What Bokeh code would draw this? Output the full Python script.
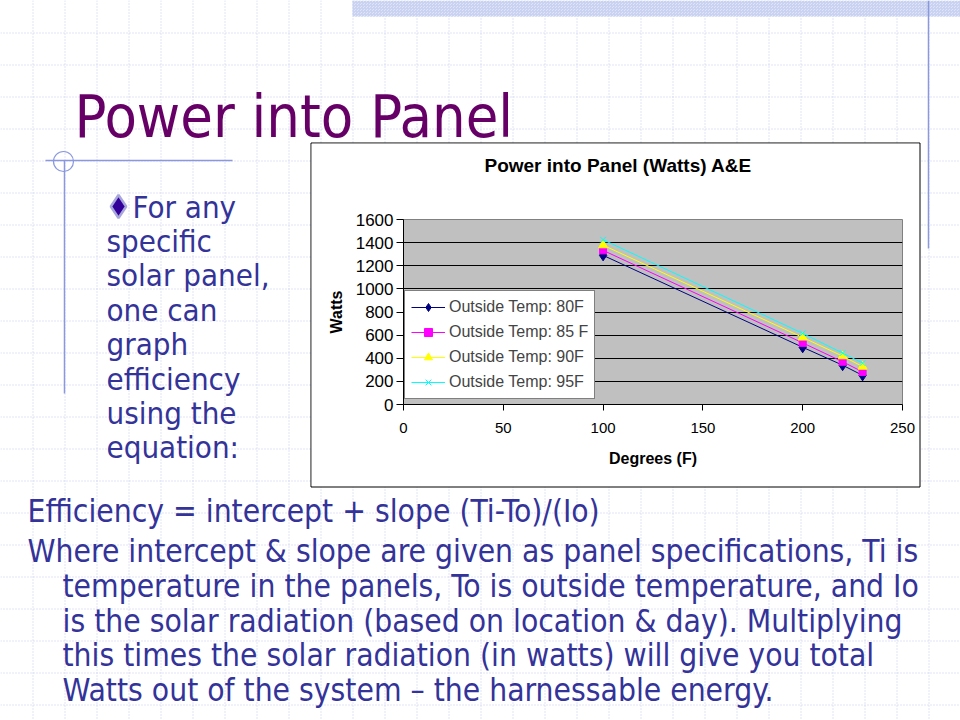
from bokeh.plotting import figure
from bokeh.models import Range1d, FixedTicker, Legend, Title
from bokeh.core.properties import value
from bokeh.embed import file_html
from bokeh.resources import INLINE

# ---------------- chart data ----------------
degrees = [100, 200, 220, 230]
watts_80 = [1290, 495, 340, 252]
watts_85 = [1333, 533, 370, 282]
watts_90 = [1378, 580, 418, 328]
watts_95 = [1425, 615, 445, 358]
series_labels = ["Outside Temp: 80F", "Outside Temp: 85 F", "Outside Temp: 90F", "Outside Temp: 95F"]
x_ticks = [0, 50, 100, 150, 200, 250]
y_ticks = [0, 200, 400, 600, 800, 1000, 1200, 1400, 1600]
chart_title = "Power into Panel (Watts) A&E"
x_label = "Degrees (F)"
y_label = "Watts"

# ---------------- slide text ----------------
slide_title = "Power into Panel"
bullet_lines = ["For any", "specific", "solar panel,", "one can", "graph",
                "efficiency", "using the", "equation:"]
body_lines = ["Efficiency = intercept + slope (Ti-To)/(Io)",
              "Where intercept & slope are given as panel specifications, Ti is",
              "temperature in the panels, To is outside temperature, and Io",
              "is the solar radiation (based on location & day).  Multiplying",
              "this times the solar radiation (in watts) will give you total",
              "Watts out of the system \u2013 the harnessable energy."]

SLIDE_FONT = "DejaVu Sans Condensed"
TEXT_COL = "#333399"
DECO_COL = "#8a98de"
GRID_COL = "#c2c6ea"
W, H = 960, 720
# chart box (page pixels)
BL, BT, BR, BB = 310, 142, 919, 486

# ================= slide canvas =================
s = figure(width=W, height=H, x_range=Range1d(0, W), y_range=Range1d(H, 0),
           output_backend="svg", toolbar_location=None, min_border=0,
           x_axis_location=None, y_axis_location=None)
s.outline_line_color = None
s.grid.visible = False
s.background_fill_color = "white"
s.border_fill_color = "white"

gx = [32 * k + 0.5 for k in range(1, 31)]
gy = [32 * k + 0.5 for k in range(1, 23)]
s.segment(x0=gx, y0=[0] * len(gx), x1=gx, y1=[H] * len(gx),
          line_color=GRID_COL, line_width=1, line_dash="1 2")
s.segment(x0=[0] * len(gy), y0=gy, x1=[W] * len(gy), y1=gy,
          line_color=GRID_COL, line_width=1, line_dash="1 2")

# top hatched band and decorative lines
s.quad(left=[352], right=[W], top=[0], bottom=[16], fill_color="#dfe5f7",
       line_color=None, hatch_pattern="criss_cross", hatch_color="#c9d3f1",
       hatch_scale=3, hatch_weight=1)
s.segment(x0=[928], y0=[0], x1=[928], y1=[248], line_color=DECO_COL, line_width=1.5)
s.segment(x0=[45], y0=[160], x1=[232], y1=[160], line_color=DECO_COL, line_width=1.5)
s.segment(x0=[64], y0=[160], x1=[64], y1=[393], line_color=DECO_COL, line_width=1.5)
s.circle(x=[63], y=[161], radius=10, fill_color=None, line_color=DECO_COL, line_width=1.2)

# title
s.text(x=[74], y=[116], text=[slide_title], text_font=value(SLIDE_FONT),
       text_font_size="59px", text_color="#660066", text_baseline="alphabetic")

# bullet
s.scatter(x=[118], y=[206], marker="diamond", size=23, fill_color="#330099",
          line_color="#a7a7dc", line_width=2.5)
bx = [132] + [106] * (len(bullet_lines) - 1)
by = [206 + 34.4 * i for i in range(len(bullet_lines))]
s.text(x=bx, y=by, text=bullet_lines, text_font=value(SLIDE_FONT),
       text_font_size="31px", text_color=TEXT_COL, text_baseline="alphabetic")

# body text
lx = [27, 27] + [62] * (len(body_lines) - 2)
ly = [510, 550, 585, 620, 654, 689]
s.text(x=lx, y=ly, text=body_lines, text_font=value(SLIDE_FONT),
       text_font_size="31.5px", text_color=TEXT_COL, text_baseline="alphabetic")

# chart box frame (chart figure is placed inside it)
s.quad(left=[BL + 0.5], right=[BR + 0.5], top=[BT + 0.5], bottom=[BB + 0.5],
       fill_color="white", line_color="black", line_width=1)

# ================= chart =================
ARIAL = "Liberation Sans"
CW, CH = BR - BL - 1, BB - BT - 1
p = figure(width=CW, height=CH, x_range=Range1d(0, 250), y_range=Range1d(0, 1600),
           output_backend="svg", toolbar_location=None,
           min_border_left=403 - (BL + 1), min_border_right=(BL + 1 + CW) - 902,
           min_border_top=219 - (BT + 1), min_border_bottom=(BT + 1 + CH) - 404,
           styles={"position": "absolute", "left": f"{BL + 1}px", "top": f"{BT + 1}px"})
p.background_fill_color = "#c0c0c0"
p.border_fill_color = "white"
p.outline_line_color = "#808080"
p.xgrid.visible = False
p.ygrid.grid_line_color = "black"
p.ygrid.grid_line_width = 1

for ax, ticks in ((p.xaxis, x_ticks), (p.yaxis, y_ticks)):
    ax.ticker = FixedTicker(ticks=ticks)
    ax.minor_tick_line_color = None
    ax.major_tick_in = 0
    ax.axis_line_color = "black"
    ax.major_tick_line_color = "black"
    ax.major_label_text_font = ARIAL
    ax.major_label_text_color = "black"
    ax.axis_label_text_font = ARIAL
    ax.axis_label_text_font_style = "bold"
    ax.axis_label_text_font_size = "16px"
    ax.axis_label_text_color = "black"

p.xaxis.major_tick_out = 6
p.xaxis.major_label_standoff = 12
p.xaxis.major_label_text_font_size = "15px"
p.xaxis.axis_label = x_label
p.xaxis.axis_label_standoff = 14
p.yaxis.major_tick_out = 7
p.yaxis.major_label_standoff = 3
p.yaxis.major_label_text_font_size = "17px"
p.yaxis.axis_label = y_label
p.yaxis.axis_label_standoff = 8

series = [
    (watts_80, "#000080", "diamond", 11),
    (watts_85, "#ff00ff", "square", 7),
    (watts_90, "#ffff00", "triangle", 9),
    (watts_95, "#00ffff", "x", 8),
]
items = []
for (vals, col, mk, sz), lab in zip(series, series_labels):
    r1 = p.line(degrees, vals, line_color=col, line_width=1)
    r2 = p.scatter(degrees, vals, marker=mk, size=sz, fill_color=col, line_color=col)
    items.append((lab, [r1, r2]))

legend = Legend(items=items, location=(1, 5))
legend.border_line_color = "black"
legend.border_line_width = 1
legend.background_fill_color = "white"
legend.background_fill_alpha = 1
legend.label_text_font = ARIAL
legend.label_text_font_size = "16px"
legend.glyph_width = 34
legend.glyph_height = 20
legend.label_height = 20
legend.label_standoff = 4
legend.padding = 6
legend.spacing = 5
legend.margin = 0
p.add_layout(legend, "center")

# chart title; two trailing blank lines lift it well above the plot area
p.add_layout(Title(text=chart_title + "\n\n", text_font=ARIAL, text_font_style="bold",
                   text_font_size="19px", text_color="black", align="left",
                   text_line_height=0.97, offset=484 - 403, standoff=6), "above")

open("out.html", "w").write(file_html([s, p], INLINE))
